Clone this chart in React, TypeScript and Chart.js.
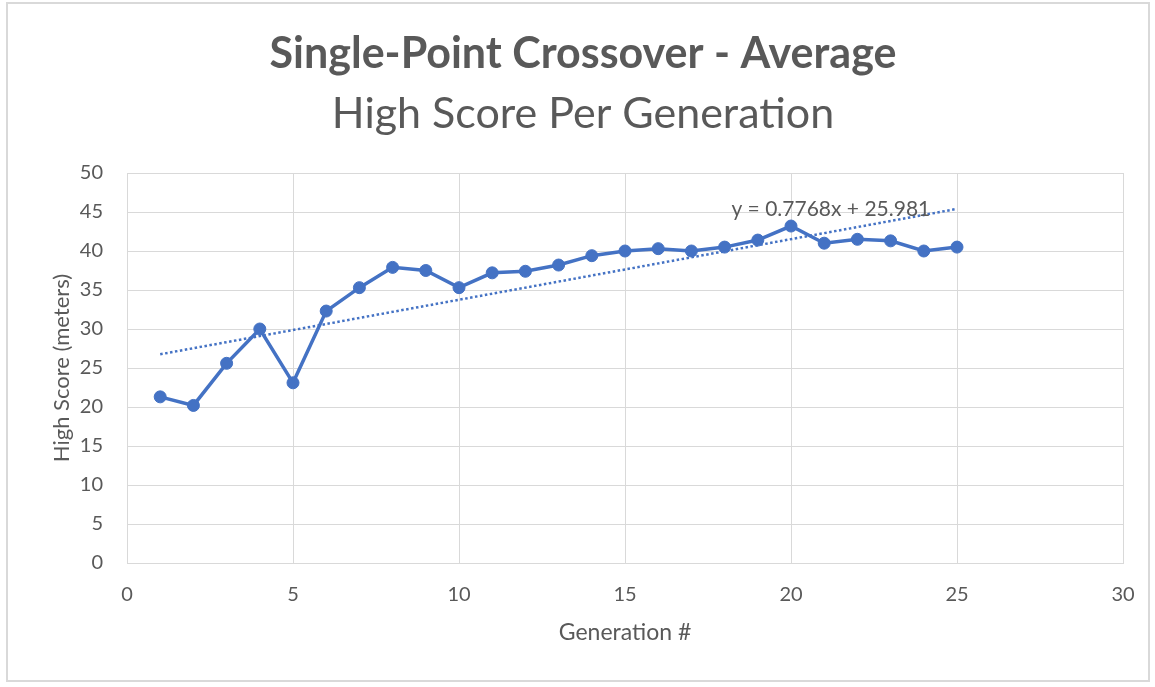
import React, { useEffect, useRef } from "react";
import { Chart, registerables } from "chart.js";

Chart.register(...registerables);

// ---- Data ----
const generations = [1, 2, 3, 4, 5, 6, 7, 8, 9, 10, 11, 12, 13, 14, 15, 16, 17, 18, 19, 20, 21, 22, 23, 24, 25];
const highScores = [21.3, 20.2, 25.6, 30.0, 23.1, 32.3, 35.3, 37.9, 37.5, 35.3, 37.2, 37.4, 38.2, 39.4, 40.0, 40.3, 40.0, 40.5, 41.4, 43.2, 41.0, 41.5, 41.3, 40.0, 40.5];
// Linear trendline endpoints (y = 0.7768x + 25.981) at x = 1 and x = 25
const trendX = [1, 25];
const trendY = [26.76, 45.40];
const trendLabel = "y = 0.7768x + 25.981";
const trendLabelPos = { x: 21.2, y: 45.4 };
const xTicks = [0, 5, 10, 15, 20, 25, 30];
const yTicks = [0, 5, 10, 15, 20, 25, 30, 35, 40, 45, 50];
const titleText = "Single-Point Crossover - Average";
const subtitleText = "High Score Per Generation";
const xAxisTitle = "Generation #";
const yAxisTitle = "High Score (meters)";

const FONT = "Lato, 'Open Sans', sans-serif";
const TEXT = "#595959";
const GRID = "#d9d9d9";
const BLUE = "#4472C4";

const decorPlugin = {
  id: "decor",
  beforeDraw(chart: any) {
    const { ctx, width, height } = chart;
    ctx.save();
    ctx.fillStyle = "#ffffff";
    ctx.fillRect(0, 0, width, height);
    ctx.strokeStyle = "#d9d9d9";
    ctx.lineWidth = 2;
    ctx.strokeRect(7, 3, 1142, 678);
    ctx.restore();
  },
  afterDraw(chart: any) {
    const { ctx } = chart;
    ctx.save();
    ctx.fillStyle = TEXT;
    ctx.textAlign = "center";
    ctx.textBaseline = "alphabetic";
    ctx.font = `bold 43px ${FONT}`;
    ctx.fillText(titleText, 583, 68);
    ctx.font = `43px ${FONT}`;
    ctx.fillText(subtitleText, 583, 128);
    // trendline equation label
    const xs = chart.scales.x;
    const ys = chart.scales.y;
    ctx.font = `21px ${FONT}`;
    ctx.textBaseline = "middle";
    ctx.fillText(trendLabel, xs.getPixelForValue(trendLabelPos.x), ys.getPixelForValue(trendLabelPos.y));
    ctx.restore();
  },
};

export default function App() {
  const ref = useRef<HTMLCanvasElement | null>(null);
  useEffect(() => {
    if (!ref.current) return;
    const chart = new Chart(ref.current, {
      type: "line",
      data: {
        datasets: [
          {
            label: "Linear trend",
            data: trendX.map((x, i) => ({ x, y: trendY[i] })),
            borderColor: BLUE,
            borderWidth: 2.5,
            borderDash: [2.5, 2.5],
            pointRadius: 0,
            fill: false,
          },
          {
            label: "High Score",
            data: generations.map((g, i) => ({ x: g, y: highScores[i] })),
            borderColor: BLUE,
            backgroundColor: BLUE,
            borderWidth: 3.5,
            pointRadius: 6,
            pointBorderWidth: 1,
            pointBackgroundColor: BLUE,
            pointBorderColor: BLUE,
            fill: false,
          },
        ],
      },
      options: {
        animation: false,
        responsive: false,
        devicePixelRatio: 1,
        layout: { padding: { left: 30, right: 32, top: 173, bottom: 24 } },
        plugins: {
          legend: { display: false },
          title: { display: false },
          tooltip: { enabled: false },
        },
        scales: {
          x: {
            type: "linear",
            min: 0,
            max: 30,
            afterBuildTicks: (s: any) => { s.ticks = xTicks.map((v) => ({ value: v })); },
            afterFit: (s: any) => { s.height = 100; },
            grid: { color: GRID, lineWidth: 1, drawTicks: false },
            border: { color: GRID, width: 1 },
            ticks: { color: TEXT, padding: 20, font: { family: FONT, size: 20 }, maxRotation: 0 },
            title: { display: true, text: xAxisTitle, color: TEXT, font: { family: FONT, size: 23 }, padding: { top: 0, bottom: 17 } },
          },
          y: {
            type: "linear",
            min: 0,
            max: 50,
            afterBuildTicks: (s: any) => { s.ticks = yTicks.map((v) => ({ value: v })); },
            afterFit: (s: any) => { s.width = 97; },
            grid: { color: GRID, lineWidth: 1, drawTicks: false },
            border: { color: GRID, width: 1 },
            ticks: { color: TEXT, padding: 24, font: { family: FONT, size: 20 } },
            title: { display: true, text: yAxisTitle, color: TEXT, font: { family: FONT, size: 22 }, padding: { top: 19, bottom: 0 } },
          },
        },
      },
      plugins: [decorPlugin],
    });
    return () => chart.destroy();
  }, []);
  return (
    <div style={{ position: "absolute", left: 0, top: 0, width: 1155, height: 687 }}>
      <canvas ref={ref} width={1155} height={687} style={{ display: "block" }} />
    </div>
  );
}
